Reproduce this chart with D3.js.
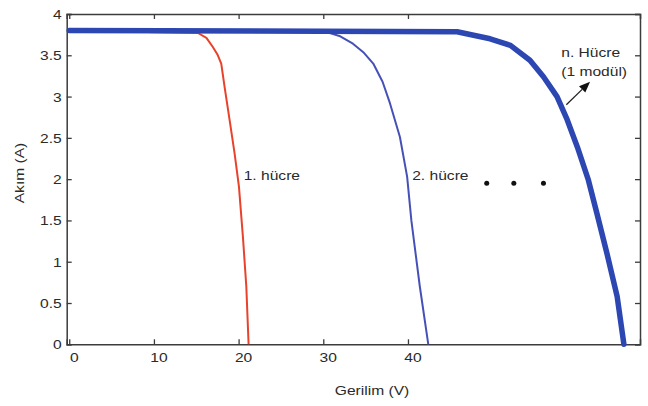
<!DOCTYPE html>
<html>
<head>
<meta charset="utf-8">
<script src="https://cdn.jsdelivr.net/npm/d3@7"></script>
<style>
  html, body { margin: 0; padding: 0; background: #fff; }
  svg { display: block; }
  text { font-family: "Liberation Sans", Arial, sans-serif; fill: #2a2a2a; }
</style>
</head>
<body>
<svg id="chart" width="648" height="406"></svg>
<script>
// I-V curves: one cell, two cells in series, n cells (one module)
const cell1Voltage = [0, 15.2, 16.2, 16.96, 17.5, 17.95, 18.34, 18.93, 19.53, 20.04, 20.51, 20.91, 21.18];
const cell1Current = [3.8, 3.77, 3.71, 3.60, 3.51, 3.40, 3.12, 2.72, 2.31, 1.91, 1.30, 0.70, 0];

const cell2Voltage = [0, 30.4, 32.0, 33.5, 34.8, 35.9, 37.0, 37.87, 39.05, 39.9, 40.4, 41.4, 42.4];
const cell2Current = [3.8, 3.78, 3.73, 3.64, 3.53, 3.40, 3.18, 2.92, 2.51, 2.03, 1.50, 0.70, 0];

const moduleVoltage = [0, 45.8, 49.7, 52.1, 54.4, 56.0, 57.6, 58.8, 60.0, 61.3, 62.3, 63.5, 64.7, 65.5];
const moduleCurrent = [3.8, 3.785, 3.70, 3.62, 3.44, 3.24, 3.0, 2.72, 2.39, 1.99, 1.59, 1.10, 0.58, 0];

// ellipsis dots between the 2-cell and n-cell curves
const dotVoltage = [49.3, 52.5, 56.0];
const dotCurrent = [1.95, 1.95, 1.95];

const xTicks = [0, 10, 20, 30, 40];
const yTicks = [0, 0.5, 1, 1.5, 2, 2.5, 3, 3.5, 4];
const xTitle = "Gerilim (V)";
const yTitle = "Akım (A)";

const svg = d3.select("#chart");
const L = 66.7, R = 640, T = 14, B = 344.3;
const SX = 1.2; // horizontal stretch of the lettering

const x = d3.scaleLinear().domain([-0.3, 67.4]).range([L, R]);
const y = d3.scaleLinear().domain([0, 4]).range([B, T]);

function label(sel, px, py, str, anchor) {
  return sel.append("text")
    .attr("transform", `translate(${px},${py}) scale(${SX},1)`)
    .attr("text-anchor", anchor || "start")
    .attr("dominant-baseline", "central")
    .style("font-size", "13px")
    .text(str);
}

// axes with inward ticks on all four sides
const axisColor = "#3c3c3c";
const gB = svg.append("g").attr("transform", `translate(0,${B})`)
  .call(d3.axisBottom(x).tickValues(xTicks).tickSize(-5).tickPadding(8).tickFormat(d3.format("d")));
const gT = svg.append("g").attr("transform", `translate(0,${T})`)
  .call(d3.axisTop(x).tickValues(xTicks).tickSize(-5).tickFormat(""));
const gL = svg.append("g").attr("transform", `translate(${L},0)`)
  .call(d3.axisLeft(y).tickValues(yTicks).tickSize(-5).tickPadding(0).tickFormat(d => d3.format("")(d)));
const gR = svg.append("g").attr("transform", `translate(${R},0)`)
  .call(d3.axisRight(y).tickValues(yTicks).tickSize(-5).tickFormat(""));

[gB, gT, gL, gR].forEach(g => {
  g.select(".domain").attr("stroke", axisColor).attr("stroke-width", 1.5);
  g.selectAll(".tick line").attr("stroke", axisColor).attr("stroke-width", 1.3);
  g.selectAll("text").style("font-size", "13px").attr("fill", "#2a2a2a")
    .style("font-family", "\"Liberation Sans\", Arial, sans-serif");
});
gB.selectAll(".tick text")
  .attr("y", 0).attr("dy", 0)
  .attr("dominant-baseline", "central")
  .attr("transform", `translate(4.5,13) scale(${SX},1)`);
gL.selectAll(".tick text")
  .attr("x", 0).attr("dy", 0)
  .attr("dominant-baseline", "central")
  .attr("transform", `translate(-5,0) scale(${SX},1)`);

// curves (straight segments between measured points)
const line = d3.line().x(d => x(d[0])).y(d => y(d[1])).curve(d3.curveLinear);
const zip = (a, b) => a.map((v, i) => [v, b[i]]);

svg.append("path").datum(zip(cell1Voltage, cell1Current))
  .attr("d", line).attr("fill", "none").attr("stroke", "#e8422c")
  .attr("stroke-width", 2).attr("stroke-linejoin", "round");
svg.append("path").datum(zip(cell2Voltage, cell2Current))
  .attr("d", line).attr("fill", "none").attr("stroke", "#4651b8")
  .attr("stroke-width", 2).attr("stroke-linejoin", "round");
svg.append("path").datum(zip(moduleVoltage, moduleCurrent))
  .attr("d", line).attr("fill", "none").attr("stroke", "#2d47b2")
  .attr("stroke-width", 5.5).attr("stroke-linejoin", "round").attr("stroke-linecap", "round");

svg.selectAll(".dot").data(zip(dotVoltage, dotCurrent)).enter().append("circle")
  .attr("cx", d => x(d[0])).attr("cy", d => y(d[1])).attr("r", 2.5).attr("fill", "#111");

// annotations
label(svg, x(20.6), y(2.05), "1. hücre");
label(svg, x(40.5), y(2.05), "2. hücre");
label(svg, x(58.1), y(3.54), "n. Hücre");
label(svg, x(58.1), y(3.30), "(1 modül)");

// arrow pointing to the module curve label
const a0 = [x(58.7), y(2.90)], a1 = [x(61.5), y(3.18)];
const ang = Math.atan2(a1[1] - a0[1], a1[0] - a0[0]);
const hl = 11, hw = 4.5;
const base = [a1[0] - hl * Math.cos(ang), a1[1] - hl * Math.sin(ang)];
svg.append("line")
  .attr("x1", a0[0]).attr("y1", a0[1]).attr("x2", base[0]).attr("y2", base[1])
  .attr("stroke", "#222").attr("stroke-width", 1.3);
svg.append("path")
  .attr("d", `M${a1[0]},${a1[1]}L${base[0] - hw * Math.sin(ang)},${base[1] + hw * Math.cos(ang)}L${base[0] + hw * Math.sin(ang)},${base[1] - hw * Math.cos(ang)}Z`)
  .attr("fill", "#111");

// axis titles
label(svg, 372, 390, xTitle, "middle");
svg.append("text")
  .attr("transform", `translate(19,173) rotate(-90) scale(${SX},1)`)
  .attr("text-anchor", "middle").attr("dominant-baseline", "central")
  .style("font-size", "13px").text(yTitle);
</script>
</body>
</html>
